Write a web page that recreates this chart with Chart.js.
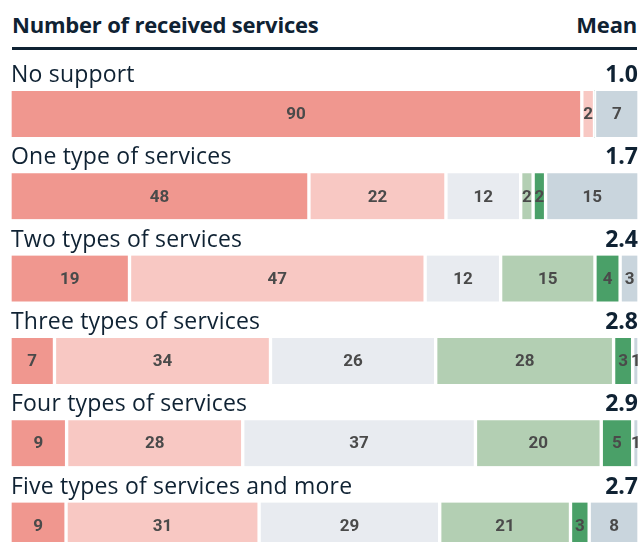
<!DOCTYPE html>
<html>
<head>
<meta charset="utf-8">
<script src="https://cdn.jsdelivr.net/npm/chart.js@4/dist/chart.umd.min.js"></script>
<style>
  html, body { margin: 0; padding: 0; background: #ffffff; width: 640px; height: 542px; overflow: hidden; }
  #hdr { position: absolute; left: 12px; top: 0; width: 625px; height: 47px; border-bottom: 3px solid #0f2233; font-family: "Open Sans", Lato, sans-serif; font-weight: 700; font-size: 22px; color: #0f2233; letter-spacing: -0.2px; }
  #hdr .l { position: absolute; left: 0; top: 9px; line-height: 30px; }
  #hdr .r { position: absolute; right: 0; top: 9px; line-height: 30px; }
  #wrap { position: absolute; left: 0; top: 0; width: 640px; height: 570px; }
</style>
</head>
<body>
<div id="hdr"><span class="l">Number of received services</span><span class="r">Mean</span></div>
<div id="wrap"><canvas id="c" width="640" height="570"></canvas></div>
<script>
// ---- data ----
const categories = [
  "No support",
  "One type of services",
  "Two types of services",
  "Three types of services",
  "Four types of services",
  "Five types of services and more"
];
const means = ["1.0", "1.7", "2.4", "2.8", "2.9", "2.7"];
const seriesNames = ["1", "2", "3", "4", "5", "Don't know"];
const s1 = [90, 48, 19, 7, 9, 9];
const s2 = [2, 22, 47, 34, 28, 31];
const s3 = [0, 12, 12, 26, 37, 29];
const s4 = [0, 2, 15, 28, 20, 21];
const s5 = [0, 2, 4, 3, 5, 3];
const sDK = [7, 15, 3, 1, 1, 8];
const seriesColors = ["#f0978f", "#f8c8c3", "#e8ebf0", "#b3cfb3", "#4aa068", "#c9d5dd"];

const rawSeries = [s1, s2, s3, s4, s5, sDK];
// each row is drawn as a 100% bar (shares of the row total)
const rowTotals = categories.map((_, i) => rawSeries.reduce((a, s) => a + s[i], 0));

const datasets = rawSeries.map((s, k) => ({
  label: seriesNames[k],
  raw: s,
  data: s.map((v, i) => v / rowTotals[i] * 100),
  backgroundColor: seriesColors[k],
  borderColor: "#ffffff",
  borderWidth: { left: 2, right: 2, top: 0, bottom: 0 },
  borderSkipped: false,
  barThickness: 46
}));

const valueLabels = {
  id: "valueLabels",
  afterDatasetsDraw(chart) {
    const ctx = chart.ctx;
    ctx.save();
    ctx.font = "bold 17px Roboto, 'Liberation Sans', sans-serif";
    ctx.fillStyle = "#4a4a4a";
    ctx.textAlign = "center";
    ctx.textBaseline = "middle";
    chart.data.datasets.forEach((ds, k) => {
      const meta = chart.getDatasetMeta(k);
      meta.data.forEach((el, i) => {
        const v = ds.raw[i];
        if (!v) return;
        const cx = (el.x + el.base) / 2;
        ctx.fillText(String(v), cx, el.y + 1);
      });
    });
    ctx.restore();
  }
};

const rowLabels = {
  id: "rowLabels",
  afterDraw(chart) {
    const ctx = chart.ctx;
    const y = chart.scales.y;
    ctx.save();
    ctx.fillStyle = "#0f2233";
    ctx.textBaseline = "alphabetic";
    categories.forEach((c, i) => {
      const yc = y.getPixelForValue(i) - 41;
      ctx.font = "23px 'Open Sans', Lato, sans-serif";
      ctx.letterSpacing = "0.2px";
      ctx.textAlign = "left";
      ctx.fillText(c, 11, yc + 9);
      ctx.font = "bold 23px 'Open Sans', Lato, sans-serif";
      ctx.letterSpacing = "0px";
      ctx.textAlign = "right";
      ctx.fillText(means[i], 638, yc + 9);
    });
    ctx.restore();
  }
};

new Chart(document.getElementById("c"), {
  type: "bar",
  data: { labels: categories, datasets },
  options: {
    indexAxis: "y",
    responsive: false,
    animation: false,
    devicePixelRatio: 1,
    layout: { padding: { left: 10, right: 1, top: 72.8, bottom: 3.3 } },
    plugins: { legend: { display: false }, tooltip: { enabled: false } },
    scales: {
      x: { stacked: true, min: 0, max: 100, display: false },
      y: { stacked: true, display: false }
    }
  },
  plugins: [valueLabels, rowLabels]
});
</script>
</body>
</html>
